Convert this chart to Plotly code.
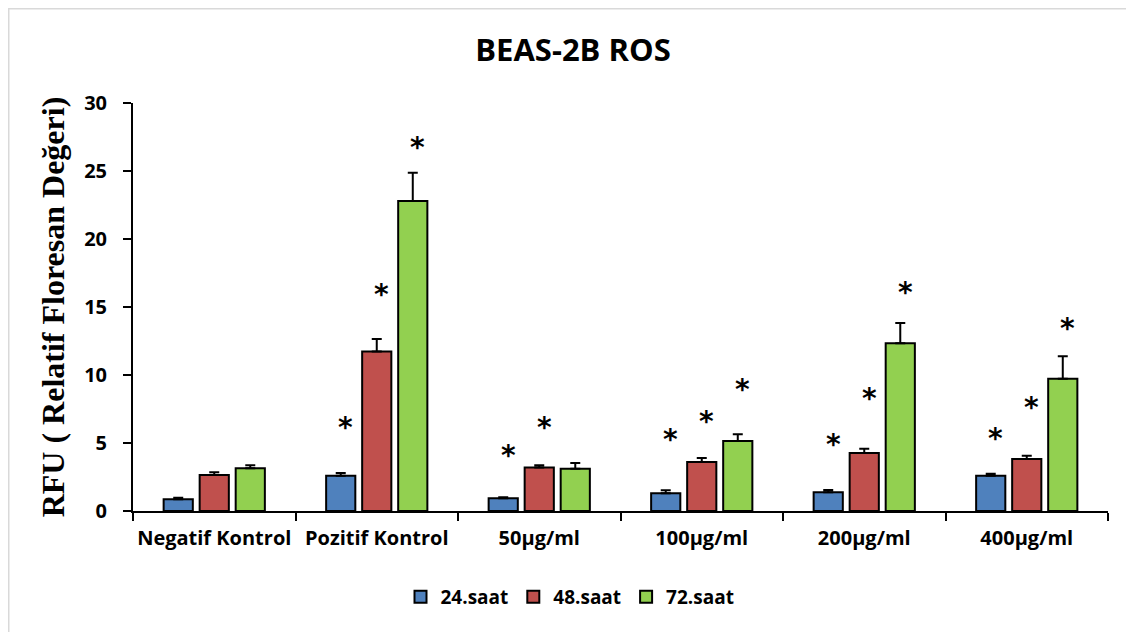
import plotly.graph_objects as go

categories = ["Negatif Kontrol", "Pozitif Kontrol", "50µg/ml", "100µg/ml", "200µg/ml", "400µg/ml"]
series_names = ["24.saat", "48.saat", "72.saat"]
colors = ["#4F81BD", "#C0504D", "#92D050"]

vals_24 = [0.86, 2.6, 0.93, 1.3, 1.37, 2.6]
vals_48 = [2.65, 11.72, 3.19, 3.6, 4.26, 3.82]
vals_72 = [3.14, 22.8, 3.11, 5.15, 12.33, 9.73]

err_24 = [0.12, 0.19, 0.08, 0.22, 0.17, 0.14]
err_48 = [0.2, 0.93, 0.18, 0.3, 0.32, 0.25]
err_72 = [0.22, 2.08, 0.42, 0.49, 1.49, 1.64]

# asterisk heights (None = no asterisk)
star_24 = [None, 6.4, 4.36, 5.54, 5.22, 5.64]
star_48 = [None, 16.25, 6.45, 6.86, 8.6, 7.89]
star_72 = [None, 27.0, None, 9.2, 16.37, 13.73]

y_ticks = [0, 5, 10, 15, 20, 25, 30]

values = [vals_24, vals_48, vals_72]
errors = [err_24, err_48, err_72]
stars = [star_24, star_48, star_72]

# the page adds an 8px body margin, so the figure is a bit smaller
W, H = 1126, 624
ML, MR, MT, MB = 125, 26, 95, 121
plot_w = W - ML - MR
plot_h = H - MT - MB

fig = go.Figure()
for name, v, e, c in zip(series_names, values, errors, colors):
    fig.add_trace(go.Bar(
        name=name, x=categories, y=v, marker=dict(color=c, line=dict(color="black", width=2)),
        error_y=dict(type="data", array=e, arrayminus=[0] * len(e), symmetric=False,
                     color="black", thickness=2, width=5),
    ))

group_w = plot_w / len(categories)
bar_step = group_w * (1 - 0.335) / 3
annotations = []
for si, s in enumerate(stars):
    for ci, yv in enumerate(s):
        if yv is None:
            continue
        annotations.append(dict(
            x=categories[ci], y=yv, xref="x", yref="y", text="<b>*</b>", showarrow=False,
            xshift=(si - 1) * bar_step + 5, yshift=-4, yanchor="middle",
            font=dict(family="DejaVu Sans", size=28, color="black"),
        ))

bx = -ML / plot_w
by = (H - MB - 0.75) / plot_h
shapes = [
    dict(type="line", xref="paper", yref="paper", x0=bx, x1=(W - ML) / plot_w, y0=by, y1=by,
         line=dict(color="#D9D9D9", width=1.5)),
    dict(type="line", xref="paper", yref="paper", x0=bx + 0.75 / plot_w, x1=bx + 0.75 / plot_w,
         y0=-MB / plot_h, y1=by, line=dict(color="#D9D9D9", width=1.5)),
]

tick_font = dict(family="Open Sans", size=20, color="black", weight="bold")

fig.update_layout(
    width=W, height=H,
    margin=dict(l=ML, r=MR, t=MT, b=MB, autoexpand=False),
    paper_bgcolor="white", plot_bgcolor="white",
    barmode="group", bargap=0.335, bargroupgap=0.19,
    title=dict(text="<b>BEAS-2B ROS</b>", x=(573 - 8) / W, xanchor="center", y=1 - 42 / H, yanchor="middle",
               font=dict(family="Open Sans", size=31, color="black")),
    xaxis=dict(showline=True, linecolor="black", linewidth=2, ticks="outside", tickson="boundaries",
               ticklen=8, tickwidth=2, tickcolor="black", tickfont=tick_font, ticklabelstandoff=8,
               tickangle=0, automargin=False),
    yaxis=dict(range=[0, 30], tickvals=y_ticks, showline=True, linecolor="black", linewidth=2,
               ticks="outside", ticklen=8, tickwidth=2, tickcolor="black", showgrid=False, zeroline=False,
               tickfont=tick_font, ticklabelstandoff=12, automargin=False,
               title=dict(text="<b>RFU ( Relatif Floresan Değeri)</b>", standoff=10,
                          font=dict(family="Liberation Serif", size=32, color="black"))),
    legend=dict(orientation="h", x=(570 - 8 - ML) / plot_w, xanchor="center",
                y=-(589 - (H - MB)) / plot_h, yanchor="middle",
                font=dict(family="Open Sans", size=19, color="black", weight="bold"),
                itemwidth=30, traceorder="normal"),
    annotations=annotations,
    shapes=shapes,
)

fig.write_html("out.html")
